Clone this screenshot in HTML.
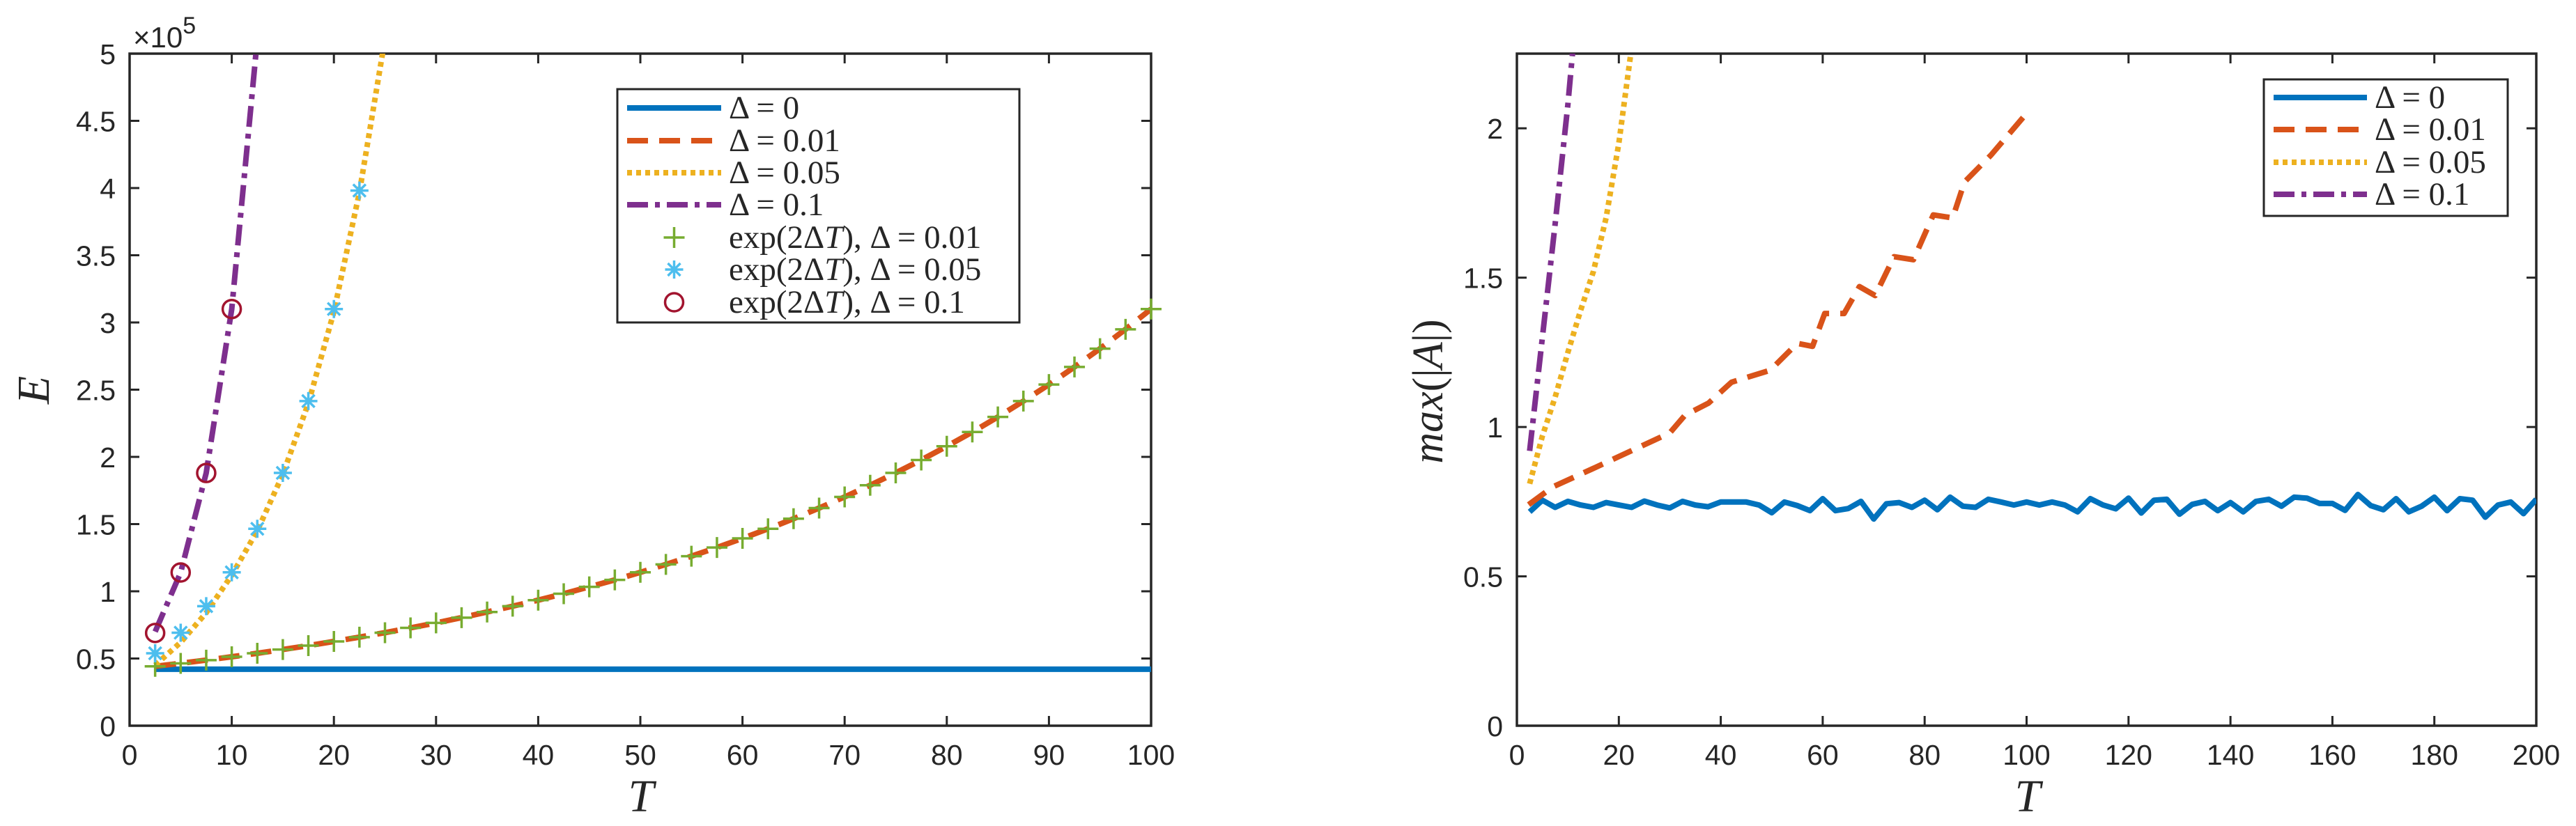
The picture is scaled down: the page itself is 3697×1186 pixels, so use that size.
<!DOCTYPE html>
<html><head><meta charset="utf-8"><style>
html,body{margin:0;padding:0;background:#fff;}
svg text{font-family:"Liberation Sans",sans-serif;fill:#262626;}
.serif{font-family:"Liberation Serif",serif !important;}
</style></head><body>
<svg id="fig" width="3697" height="1181" viewBox="0 0 3697 1181" xmlns="http://www.w3.org/2000/svg">
<defs>
<clipPath id="clipL"><rect x="186" y="77" width="1466" height="965"/></clipPath>
<clipPath id="clipR"><rect x="2177" y="77" width="1463" height="965"/></clipPath>
</defs>
<g id="left"></g>
<g id="right"></g>
</svg>
<script>
// ---- Left chart data (E in units of 1e5) ----
const leftXTicks = [0,10,20,30,40,50,60,70,80,90,100];
const leftYTicks = [0,0.5,1,1.5,2,2.5,3,3.5,4,4.5,5];
const leftYTickLabels = ["0","0.5","1","1.5","2","2.5","3","3.5","4","4.5","5"];
const e0T = [2.5,100];
const e0V = [0.42,0.42];
const e001T = [2.5,5,7.5,10,12.5,15,17.5,20,22.5,25,27.5,30,32.5,35,37.5,40,42.5,45,47.5,50,52.5,55,57.5,60,62.5,65,67.5,70,72.5,75,77.5,80,82.5,85,87.5,90,92.5,95,97.5,100];
const e001V = [0.442,0.464,0.488,0.513,0.539,0.567,0.596,0.627,0.659,0.692,0.728,0.765,0.804,0.846,0.889,0.934,0.982,1.033,1.085,1.141,1.200,1.261,1.326,1.394,1.465,1.540,1.619,1.702,1.789,1.881,1.977,2.079,2.185,2.297,2.415,2.538,2.669,2.805,2.949,3.100];
const e005T = [2.5,5,7.5,10,12.5,15,17.5,20,22.5,25];
const e005V = [0.45,0.62,0.84,1.12,1.45,1.87,2.40,3.08,3.97,5.11];
const e01T = [2.5,5,7.5,10,12.5];
const e01V = [0.70,1.14,1.88,3.10,5.11];
const m001V = [0.442,0.464,0.488,0.513,0.539,0.567,0.596,0.627,0.659,0.692,0.728,0.765,0.804,0.846,0.889,0.934,0.982,1.033,1.085,1.141,1.200,1.261,1.326,1.394,1.465,1.540,1.619,1.702,1.789,1.881,1.977,2.079,2.185,2.297,2.415,2.538,2.669,2.805,2.949,3.100];
const m005T = [2.5,5,7.5,10,12.5,15,17.5,20,22.5];
const m005V = [0.539,0.692,0.889,1.141,1.465,1.881,2.415,3.100,3.981];
const m01T = [2.5,5,7.5,10];
const m01V = [0.69,1.14,1.88,3.10];

// ---- Right chart data ----
const rightXTicks = [0,20,40,60,80,100,120,140,160,180,200];
const rightYTicks = [0,0.5,1,1.5,2];
const rightYTickLabels = ["0","0.5","1","1.5","2"];
const a0V = [0.716,0.755,0.731,0.751,0.739,0.731,0.747,0.739,0.731,0.752,0.739,0.729,0.751,0.739,0.733,0.749,0.749,0.749,0.739,0.713,0.749,0.737,0.720,0.760,0.720,0.727,0.751,0.692,0.743,0.747,0.731,0.755,0.723,0.765,0.735,0.731,0.758,0.749,0.739,0.749,0.739,0.749,0.739,0.716,0.760,0.739,0.726,0.762,0.712,0.755,0.758,0.708,0.741,0.751,0.720,0.747,0.716,0.751,0.758,0.735,0.765,0.762,0.744,0.744,0.721,0.774,0.737,0.723,0.760,0.716,0.735,0.765,0.720,0.760,0.755,0.698,0.739,0.749,0.710,0.758];
const a001T = [2.3,7.1,14.8,22.4,30,33,37.6,42.1,49.7,55,58,60.4,64.2,67.2,70.3,74,77.8,81.7,85.5,87.8,93,100];
const a001V = [0.74,0.80,0.86,0.92,0.98,1.04,1.08,1.15,1.19,1.28,1.27,1.38,1.38,1.47,1.44,1.57,1.56,1.71,1.70,1.82,1.91,2.05];
const a005T = [2.5,5,7.5,10,12.5,15,17.5,20,22.5];
const a005V = [0.81,0.97,1.10,1.25,1.39,1.52,1.70,1.95,2.27];
const a01T = [2.5,5,7.5,10,12.5];
const a01V = [0.92,1.30,1.68,2.08,2.55];

const NS="http://www.w3.org/2000/svg";
function mk(parent,tag,attrs){const e=document.createElementNS(NS,tag);for(const k in attrs)e.setAttribute(k,attrs[k]);parent.appendChild(e);return e;}

const BLUE="#0072BD",RED="#D95319",YEL="#EDB120",PUR="#7E2F8E",GRN="#77AC30",CYAN="#4DBEEE",DRED="#A2142F",AX="#262626";

function axes(g,L,T,R,B,xmax,ymax,xt,yt,ytl){
  const sx=v=>L+(R-L)*v/xmax, sy=v=>B-(B-T)*v/ymax;
  xt.forEach(v=>{
    const x=sx(v);
    let t=mk(g,'line',{x1:x,x2:x,y1:B,y2:B-14,stroke:AX,'stroke-width':3});
    
    
    t=mk(g,'line',{x1:x,x2:x,y1:T,y2:T+14,stroke:AX,'stroke-width':3});
    
    
    const lb=mk(g,'text',{x:x,y:B+56,'text-anchor':'middle','font-size':41});
    lb.textContent=String(v);
    
    
  });
  yt.forEach((v,i)=>{
    const y=sy(v);
    let t=mk(g,'line',{x1:L,x2:L+14,y1:y,y2:y,stroke:AX,'stroke-width':3});
    
    
    t=mk(g,'line',{x1:R,x2:R-14,y1:y,y2:y,stroke:AX,'stroke-width':3});
    
    
    const lb=mk(g,'text',{x:L-20,y:y+15,'text-anchor':'end','font-size':41});
    lb.textContent=ytl[i];
    
    
  });
  const box=mk(g,'rect',{x:L,y:T,width:R-L,height:B-T,fill:'none',stroke:AX,'stroke-width':3.5});
  
  
  return {sx,sy};
}
function line(g,clip,s,xs,ys,color,dash,name){
  const d=xs.map((x,i)=>(i?'L':'M')+s.sx(x).toFixed(1)+','+s.sy(ys[i]).toFixed(1)).join('');
  const p=mk(g,'path',{d:d,fill:'none',stroke:color,'stroke-width':8,'clip-path':'url(#'+clip+')','stroke-linejoin':'round'});
  if(dash)p.setAttribute('stroke-dasharray',dash);
  
  
}
function marker(g,type,x,y,name){
  let m;
  if(type==='plus'){m=mk(g,'path',{d:`M${x-15},${y}H${x+15}M${x},${y-15}V${y+15}`,stroke:GRN,'stroke-width':3.5,fill:'none'});}
  else if(type==='star'){m=mk(g,'path',{d:`M${x-13},${y}H${x+13}M${x},${y-13}V${y+13}M${x-9},${y-9}L${x+9},${y+9}M${x-9},${y+9}L${x+9},${y-9}`,stroke:CYAN,'stroke-width':3.5,fill:'none'});}
  else {m=mk(g,'circle',{cx:x,cy:y,r:13,stroke:DRED,'stroke-width':3.5,fill:'none'});}
  
  
}
function legend(g,x,y,w,h,rows,sampleX1,sampleX2,textX,rowY){
  const b=mk(g,'rect',{x:x,y:y,width:w,height:h,fill:'#fff',stroke:AX,'stroke-width':3});
  
  
  rows.forEach((r,i)=>{
    const yy=rowY[i];
    if(r.type==='line'){
      const l=mk(g,'line',{x1:sampleX1,x2:sampleX2,y1:yy,y2:yy,stroke:r.color,'stroke-width':8});
      if(r.dash)l.setAttribute('stroke-dasharray',r.dash);
      
      
    } else marker(g,r.type,(sampleX1+sampleX2)/2,yy,'legend-marker');
    const t=mk(g,'text',{x:textX,y:yy+15,'font-size':47,'class':'serif'});
    t.innerHTML=r.label;
    
    
  });
}

// ---- LEFT ----
const gl=document.getElementById('left');
const sl=axes(gl,186,77,1652,1042,100,5,leftXTicks,leftYTicks,leftYTickLabels);
line(gl,'clipL',sl,e0T,e0V,BLUE,null,'series-delta-0');
line(gl,'clipL',sl,e001T,e001V,RED,'30 16','series-delta-0.01');
line(gl,'clipL',sl,e005T,e005V,YEL,'7 6','series-delta-0.05');
line(gl,'clipL',sl,e01T,e01V,PUR,'30 10 7 10','series-delta-0.1');
e001T.forEach((t,i)=>marker(gl,'plus',sl.sx(t),sl.sy(m001V[i]),'exp-marker-0.01'));
m005T.forEach((t,i)=>marker(gl,'star',sl.sx(t),sl.sy(m005V[i]),'exp-marker-0.05'));
m01T.forEach((t,i)=>marker(gl,'circle',sl.sx(t),sl.sy(m01V[i]),'exp-marker-0.1'));
let t1=mk(gl,'text',{x:191,y:68,'font-size':42});
t1.innerHTML='×10<tspan dy="-20" font-size="34">5</tspan>';


let xl=mk(gl,'text',{x:920,y:1165,'text-anchor':'middle','font-size':66,'font-style':'italic','class':'serif'});
xl.textContent='T';


let yl=mk(gl,'text',{x:0,y:0,'text-anchor':'middle','font-size':66,'font-style':'italic','class':'serif',transform:'translate(70,560) rotate(-90)'});
yl.textContent='E';


legend(gl,886,128,577,335,[
 {type:'line',color:BLUE,label:'Δ = 0'},
 {type:'line',color:RED,dash:'30 16',label:'Δ = 0.01'},
 {type:'line',color:YEL,dash:'7 6',label:'Δ = 0.05'},
 {type:'line',color:PUR,dash:'30 10 7 10',label:'Δ = 0.1'},
 {type:'plus',label:'exp(2Δ<tspan font-style="italic">T</tspan>), Δ = 0.01'},
 {type:'star',label:'exp(2Δ<tspan font-style="italic">T</tspan>), Δ = 0.05'},
 {type:'circle',label:'exp(2Δ<tspan font-style="italic">T</tspan>), Δ = 0.1'}
],900,1035,1046,[155,202,248,294,341,387,434]);

// ---- RIGHT ----
const gr=document.getElementById('right');
const sr=axes(gr,2177,77,3640,1042,200,2.25,rightXTicks,rightYTicks,rightYTickLabels);
const a0T=a0V.map((v,i)=>2.5*(i+1));
line(gr,'clipR',sr,a0T,a0V,BLUE,null,'series-delta-0');
line(gr,'clipR',sr,a001T,a001V,RED,'30 16','series-delta-0.01');
line(gr,'clipR',sr,a005T,a005V,YEL,'7 6','series-delta-0.05');
line(gr,'clipR',sr,a01T,a01V,PUR,'30 10 7 10','series-delta-0.1');
xl=mk(gr,'text',{x:2910,y:1165,'text-anchor':'middle','font-size':66,'font-style':'italic','class':'serif'});
xl.textContent='T';


yl=mk(gr,'text',{x:0,y:0,'text-anchor':'middle','font-size':62,'class':'serif',transform:'translate(2070,562) rotate(-90)'});
yl.innerHTML='<tspan font-style="italic">max</tspan>(|<tspan font-style="italic">A</tspan>|)';


legend(gr,3249,114,350,196,[
 {type:'line',color:BLUE,label:'Δ = 0'},
 {type:'line',color:RED,dash:'30 16',label:'Δ = 0.01'},
 {type:'line',color:YEL,dash:'7 6',label:'Δ = 0.05'},
 {type:'line',color:PUR,dash:'30 10 7 10',label:'Δ = 0.1'}
],3263,3397,3408,[140,186,233,279]);
</script>
</body></html>
